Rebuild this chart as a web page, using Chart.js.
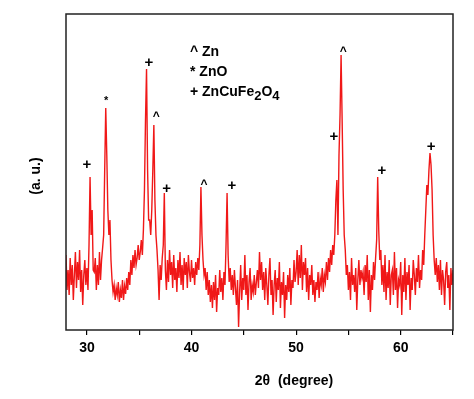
<!DOCTYPE html>
<html>
<head>
<script src="https://cdn.jsdelivr.net/npm/chart.js@4.4.1/dist/chart.umd.min.js"></script>
<style>
  body { margin: 0; background: #fff; }
</style>
</head>
<body>
<canvas id="xrd" width="474" height="399"></canvas>
<script>
// scan: 2theta from 28 to 65 in 0.1 deg steps, intensity in arbitrary units
const startAngle = 28.0;
const stepAngle = 0.1;
const intensity = [
  75, 40, 60, 35, 72, 45, 65, 30, 55, 78,    // 28
  42, 68, 50, 80, 38, 60, 25, 55, 70, 45,    // 29
  62, 40, 85, 153, 95, 120, 60, 58, 72, 40,  // 30
  65, 45, 78, 50, 70, 82, 95, 160, 222, 175, // 31
  120, 95, 110, 70, 50, 38, 45, 30, 42, 35,  // 32
  48, 28, 40, 32, 50, 30, 44, 36, 52, 40,    // 33
  58, 45, 70, 55, 75, 62, 80, 65, 72, 85,    // 34
  70, 78, 90, 75, 100, 140, 210, 261, 160, 110, // 35
  110, 95, 120, 160, 205, 130, 95, 80, 60, 30, // 36
  65, 50, 72, 85, 137, 60, 40, 70, 48, 80,   // 37
  55, 68, 42, 75, 50, 62, 38, 70, 52, 78,    // 38
  45, 65, 40, 72, 55, 68, 42, 75, 58, 48,    // 39
  70, 52, 62, 45, 68, 55, 72, 60, 85, 143,   // 40
  95, 70, 55, 62, 40, 58, 35, 50, 28, 45,    // 41
  22, 48, 30, 55, 18, 42, 35, 60, 38, 52,    // 42
  30, 58, 45, 85, 137, 75, 48, 62, 40, 55,   // 43
  35, 60, 42, 25, 50, 3, 38, 65, 30, 52,     // 44
  40, 75, 35, 55, 20, 48, 62, 30, 45, 38,    // 45
  55, 35, 48, 60, 42, 78, 50, 68, 40, 58,    // 46
  30, 62, 45, 25, 55, 72, 35, 50, 15, 45,    // 47
  60, 28, 52, 40, 68, 22, 48, 35, 58, 12,    // 48
  45, 30, 55, 38, 62, 25, 50, 42, 70, 48,    // 49
  58, 80, 45, 75, 52, 85, 40, 68, 55, 72,    // 50
  38, 62, 30, 55, 45, 65, 35, 50, 28, 48,    // 51
  40, 58, 32, 52, 45, 62, 38, 55, 48, 68,    // 52
  50, 72, 58, 80, 65, 85, 75, 95, 130, 150,  // 53
  95, 175, 215, 275, 210, 140, 95, 80, 55, 65, // 54
  40, 58, 30, 72, 45, 55, 38, 62, 20, 50,    // 55
  70, 45, 60, 52, 58, 35, 65, 48, 75, 30,    // 56
  60, 18, 55, 40, 68, 50, 72, 90, 153, 100,  // 57
  70, 80, 45, 65, 38, 75, 30, 58, 42, 70,    // 58
  25, 55, 60, 35, 78, 40, 62, 22, 50, 45,    // 59
  68, 15, 55, 38, 72, 30, 58, 45, 65, 20,    // 60
  52, 40, 70, 55, 35, 62, 48, 75, 42, 60,    // 61
  50, 80, 65, 95, 120, 145, 135, 160, 177, 165, // 62
  140, 95, 70, 55, 72, 48, 65, 40, 70, 35,   // 63
  60, 50, 25, 58, 68, 42, 55, 20, 62, 45,    // 64
  60                                         // 65
];

// phase markers placed above the reflections
const peakAngle  = [30.0, 31.83, 35.93, 36.62, 37.63, 41.2, 43.85, 53.6, 54.51, 58.2, 62.9];
const peakHeight = [165, 231, 267, 216, 141, 148, 144, 193, 281, 159, 183];
const peakSymbol = ['+', '*', '+', '^', '+', '^', '+', '+', '^', '+', '+'];

const majorTicks = [30, 40, 50, 60];
const minorTicks = [35, 45, 55, 65];
const phaseKey = ['^ Zn', '* ZnO', '+ ZnCuFe2O4'];

const FONT = '"Liberation Sans", Arial, sans-serif';

const points = intensity.map((v, i) => ({ x: +(startAngle + i * stepAngle).toFixed(2), y: v }));

// frame, peak markers, phase key and axis titles
const decor = {
  id: 'decor',
  afterDraw(chart) {
    const { ctx, chartArea: a, scales: { x, y } } = chart;
    ctx.save();
    ctx.strokeStyle = '#222';
    ctx.lineWidth = 1.5;
    ctx.strokeRect(a.left, a.top, a.right - a.left, a.bottom - a.top);

    ctx.fillStyle = '#000';
    ctx.textAlign = 'center';
    ctx.textBaseline = 'middle';
    peakSymbol.forEach((s, i) => {
      const px = x.getPixelForValue(peakAngle[i]);
      const py = y.getPixelForValue(peakHeight[i]);
      if (s === '+') { ctx.font = 'bold 15px ' + FONT; ctx.fillText(s, px, py); }
      else if (s === '*') { ctx.font = 'bold 11px ' + FONT; ctx.fillText(s, px, py + 2); }
      else { ctx.font = 'bold 12px ' + FONT; ctx.fillText(s, px, py + 3); }
    });

    // phase key with subscripted digits
    ctx.textAlign = 'left';
    ctx.textBaseline = 'alphabetic';
    phaseKey.forEach((line, k) => {
      let cx = 190;
      const by = 56 + k * 20;
      line.split(/(\d+)/).forEach(part => {
        if (!part) return;
        const sub = /^\d+$/.test(part);
        ctx.font = 'bold ' + (sub ? 13 : 14) + 'px ' + FONT;
        ctx.fillText(part, cx, by + (sub ? 4 : 0));
        cx += ctx.measureText(part).width;
      });
    });

    ctx.font = 'bold 14px ' + FONT;
    ctx.textAlign = 'center';
    ctx.textBaseline = 'middle';
    ctx.fillText('2\u03b8  (degree)', 294, 381);
    ctx.translate(36, 176);
    ctx.rotate(-Math.PI / 2);
    ctx.fillText('(a. u.)', 0, 0);
    ctx.restore();
  }
};

new Chart(document.getElementById('xrd'), {
  type: 'line',
  data: {
    datasets: [{
      data: points,
      borderColor: '#f01818',
      borderWidth: 1.4,
      pointRadius: 0,
      tension: 0,
      fill: false
    }]
  },
  options: {
    responsive: false,
    animation: false,
    layout: { padding: { top: 14, right: 21, left: 0, bottom: 0 } },
    plugins: { legend: { display: false }, tooltip: { enabled: false } },
    scales: {
      x: {
        type: 'linear',
        min: 28,
        max: 65,
        afterBuildTicks: s => {
          s.ticks = majorTicks.concat(minorTicks).sort((a, b) => a - b).map(v => ({ value: v }));
        },
        afterFit: s => { s.height = 69; },
        grid: { drawOnChartArea: false, drawTicks: true, tickLength: 5, color: '#000', lineWidth: 1.2 },
        border: { display: false },
        ticks: {
          autoSkip: false,
          maxRotation: 0,
          padding: 5,
          color: '#000',
          font: { family: FONT, size: 14, weight: 'bold' },
          callback: v => majorTicks.includes(v) ? String(v) : ''
        }
      },
      y: {
        min: 0,
        max: 316,
        afterFit: s => { s.width = 66; },
        ticks: { display: false },
        grid: { display: false },
        border: { display: false }
      }
    }
  },
  plugins: [decor]
});
</script>
</body>
</html>
